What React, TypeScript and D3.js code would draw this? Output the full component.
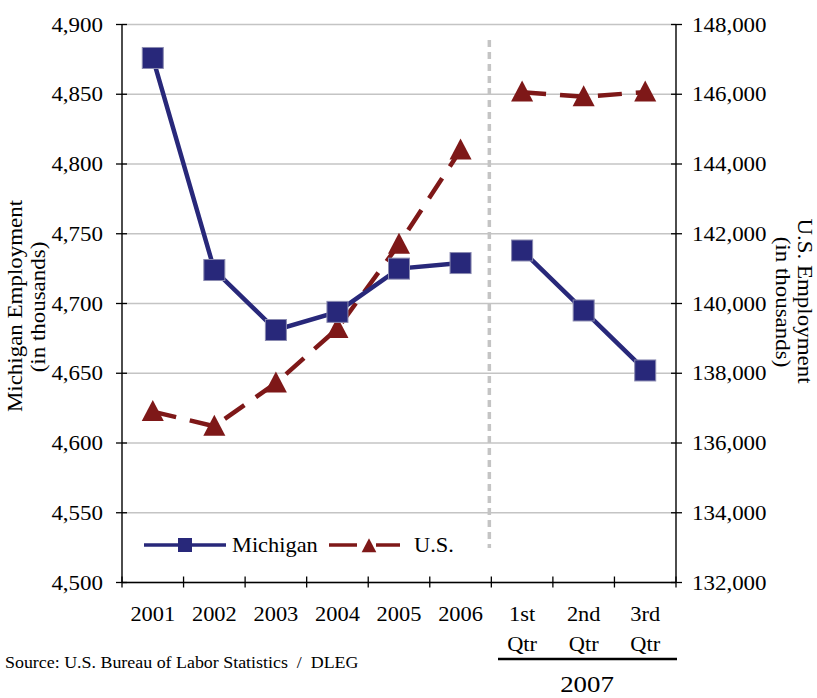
import React from "react";
import * as d3 from "d3";

// Categories: six annual averages, then three 2007 quarters
const categories = ["2001", "2002", "2003", "2004", "2005", "2006", "Q1", "Q2", "Q3"];
const categoryLines: string[][] = [
  ["2001"], ["2002"], ["2003"], ["2004"], ["2005"], ["2006"],
  ["1st", "Qtr"], ["2nd", "Qtr"], ["3rd", "Qtr"],
];
// Employment, in thousands
const michigan = [4876, 4724, 4681, 4694, 4725, 4729, 4738, 4695, 4652];
const us = [136900, 136480, 137720, 139280, 141700, 144400, 146060, 145930, 146060];

const leftTicks = [4500, 4550, 4600, 4650, 4700, 4750, 4800, 4850, 4900];
const rightTicks = [132000, 134000, 136000, 138000, 140000, 142000, 144000, 146000, 148000];
// index ranges drawn as connected runs (annual vs. quarterly)
const segments = [[0, 6], [6, 9]];

const W = 817;
const H = 698;
const plot = { left: 122, right: 676, top: 24.5, bottom: 582.5 };
const FONT = "'Liberation Serif', 'Times New Roman', serif";
const NAVY = "#28287A";
const RED = "#7E1818";
const SX = 1.12; // widening of the serif labels along their reading direction
const fmt = d3.format(",");

type TProps = {
  x: number;
  y: number;
  size: number;
  anchor?: "start" | "middle" | "end";
  rotate?: number;
  children: React.ReactNode;
};

// Label widened along its reading direction, optionally rotated
function T({ x, y, size, anchor = "start", rotate = 0, children }: TProps) {
  return (
    <text
      transform={`translate(${x},${y}) rotate(${rotate}) scale(${SX},1)`}
      textAnchor={anchor}
      fontSize={size}
      style={{ whiteSpace: "pre" }}
    >
      {children}
    </text>
  );
}

export default function App() {
  const x = d3.scaleBand<string>().domain(categories).range([plot.left, plot.right]).padding(0);
  const cx = (i: number) => (x(categories[i]) as number) + x.bandwidth() / 2;
  const yL = d3.scaleLinear().domain([4500, 4900]).range([plot.bottom, plot.top]);
  const yR = d3.scaleLinear().domain([132000, 148000]).range([plot.bottom, plot.top]);

  const pathFor = (vals: number[], y: (v: number) => number, [a, b]: number[]) =>
    d3.line<number>()
      .x((_, i) => cx(a + i))
      .y((v) => y(v))(vals.slice(a, b)) as string;

  const tri = (size: number) => {
    const h = size;
    const w = size * 1.05;
    return `M0,${-h * 0.55}L${w / 2},${h * 0.45}L${-w / 2},${h * 0.45}Z`;
  };

  const sepX = (x(categories[6]) as number) - 2;
  const tickStroke = "#000";

  return (
    <svg width={W} height={H} style={{ position: "absolute", left: 0, top: 0, background: "#fff" }} fontFamily={FONT}>
      {/* gridlines */}
      {leftTicks.map((t) => (
        <line key={"g" + t} x1={plot.left} x2={plot.right} y1={yL(t)} y2={yL(t)} stroke="#c4c4c4" strokeWidth={1.3} />
      ))}

      {/* separator between annual and quarterly values */}
      <line x1={sepX} x2={sepX} y1={40} y2={548} stroke="#c4c4c4" strokeWidth={3.5} strokeDasharray="7 5" />

      {/* axes */}
      <line x1={plot.left} x2={plot.left} y1={plot.top} y2={plot.bottom} stroke={tickStroke} strokeWidth={1.4} />
      <line x1={plot.right} x2={plot.right} y1={plot.top} y2={plot.bottom} stroke={tickStroke} strokeWidth={1.4} />
      <line x1={plot.left} x2={plot.right} y1={plot.bottom} y2={plot.bottom} stroke={tickStroke} strokeWidth={1.4} />

      {leftTicks.map((t) => (
        <g key={"l" + t}>
          <line x1={plot.left - 6} x2={plot.left + 5} y1={yL(t)} y2={yL(t)} stroke={tickStroke} strokeWidth={1.3} />
          <T x={103} y={yL(t) + 7} size={20.5} anchor="end">{fmt(t)}</T>
        </g>
      ))}
      {rightTicks.map((t) => (
        <g key={"r" + t}>
          <line x1={plot.right - 5} x2={plot.right + 6} y1={yR(t)} y2={yR(t)} stroke={tickStroke} strokeWidth={1.3} />
          <T x={692} y={yR(t) + 7} size={20.5}>{fmt(t)}</T>
        </g>
      ))}
      {categories.map((c) => (
        <line key={"t" + c} x1={x(c) as number} x2={x(c) as number} y1={plot.bottom - 6} y2={plot.bottom + 5} stroke={tickStroke} strokeWidth={1.3} />
      ))}
      <line x1={plot.right} x2={plot.right} y1={plot.bottom - 6} y2={plot.bottom + 5} stroke={tickStroke} strokeWidth={1.3} />

      {categoryLines.map((lines, i) =>
        lines.map((s, j) => (
          <T key={"c" + i + "-" + j} x={cx(i)} y={621 + j * 30} size={20} anchor="middle">{s}</T>
        ))
      )}
      <line x1={498} x2={677} y1={659} y2={659} stroke="#000" strokeWidth={2.6} />
      <T x={587} y={692} size={24} anchor="middle">2007</T>

      {/* axis titles */}
      <T x={22} y={306} size={20.5} anchor="middle" rotate={-90}>Michigan Employment</T>
      <T x={45} y={307} size={20.5} anchor="middle" rotate={-90}>(in thousands)</T>
      <T x={798} y={301} size={20.5} anchor="middle" rotate={90}>U.S. Employment</T>
      <T x={776} y={302} size={20.5} anchor="middle" rotate={90}>(in thousands)</T>

      <T x={5} y={668} size={16}>{"Source: U.S. Bureau of Labor Statistics  /  DLEG"}</T>

      {/* U.S. series */}
      {segments.map((s, k) => (
        <path key={"us" + k} d={pathFor(us, yR, s)} fill="none" stroke={RED} strokeWidth={4.5} strokeDasharray="24 14" />
      ))}
      {us.map((v, i) => (
        <path key={"ut" + i} d={tri(21)} transform={`translate(${cx(i)},${yR(v)})`} fill={RED} />
      ))}

      {/* Michigan series */}
      {segments.map((s, k) => (
        <path key={"mi" + k} d={pathFor(michigan, yL, s)} fill="none" stroke={NAVY} strokeWidth={4.5} />
      ))}
      {michigan.map((v, i) => (
        <rect key={"ms" + i} x={cx(i) - 10.5} y={yL(v) - 10.5} width={21} height={21} fill={NAVY} stroke="#8a8ab0" strokeWidth={1} />
      ))}

      {/* legend */}
      <g>
        <line x1={144} x2={226} y1={545} y2={545} stroke={NAVY} strokeWidth={3.5} />
        <rect x={185 - 7} y={545 - 7} width={14} height={14} fill={NAVY} />
        <T x={232} y={552} size={20}>Michigan</T>
        <line x1={329} x2={357} y1={545} y2={545} stroke={RED} strokeWidth={3.5} />
        <line x1={376} x2={400} y1={545} y2={545} stroke={RED} strokeWidth={3.5} />
        <path d={tri(14)} transform="translate(369,546)" fill={RED} />
        <T x={414} y={552} size={20}>U.S.</T>
      </g>
    </svg>
  );
}
